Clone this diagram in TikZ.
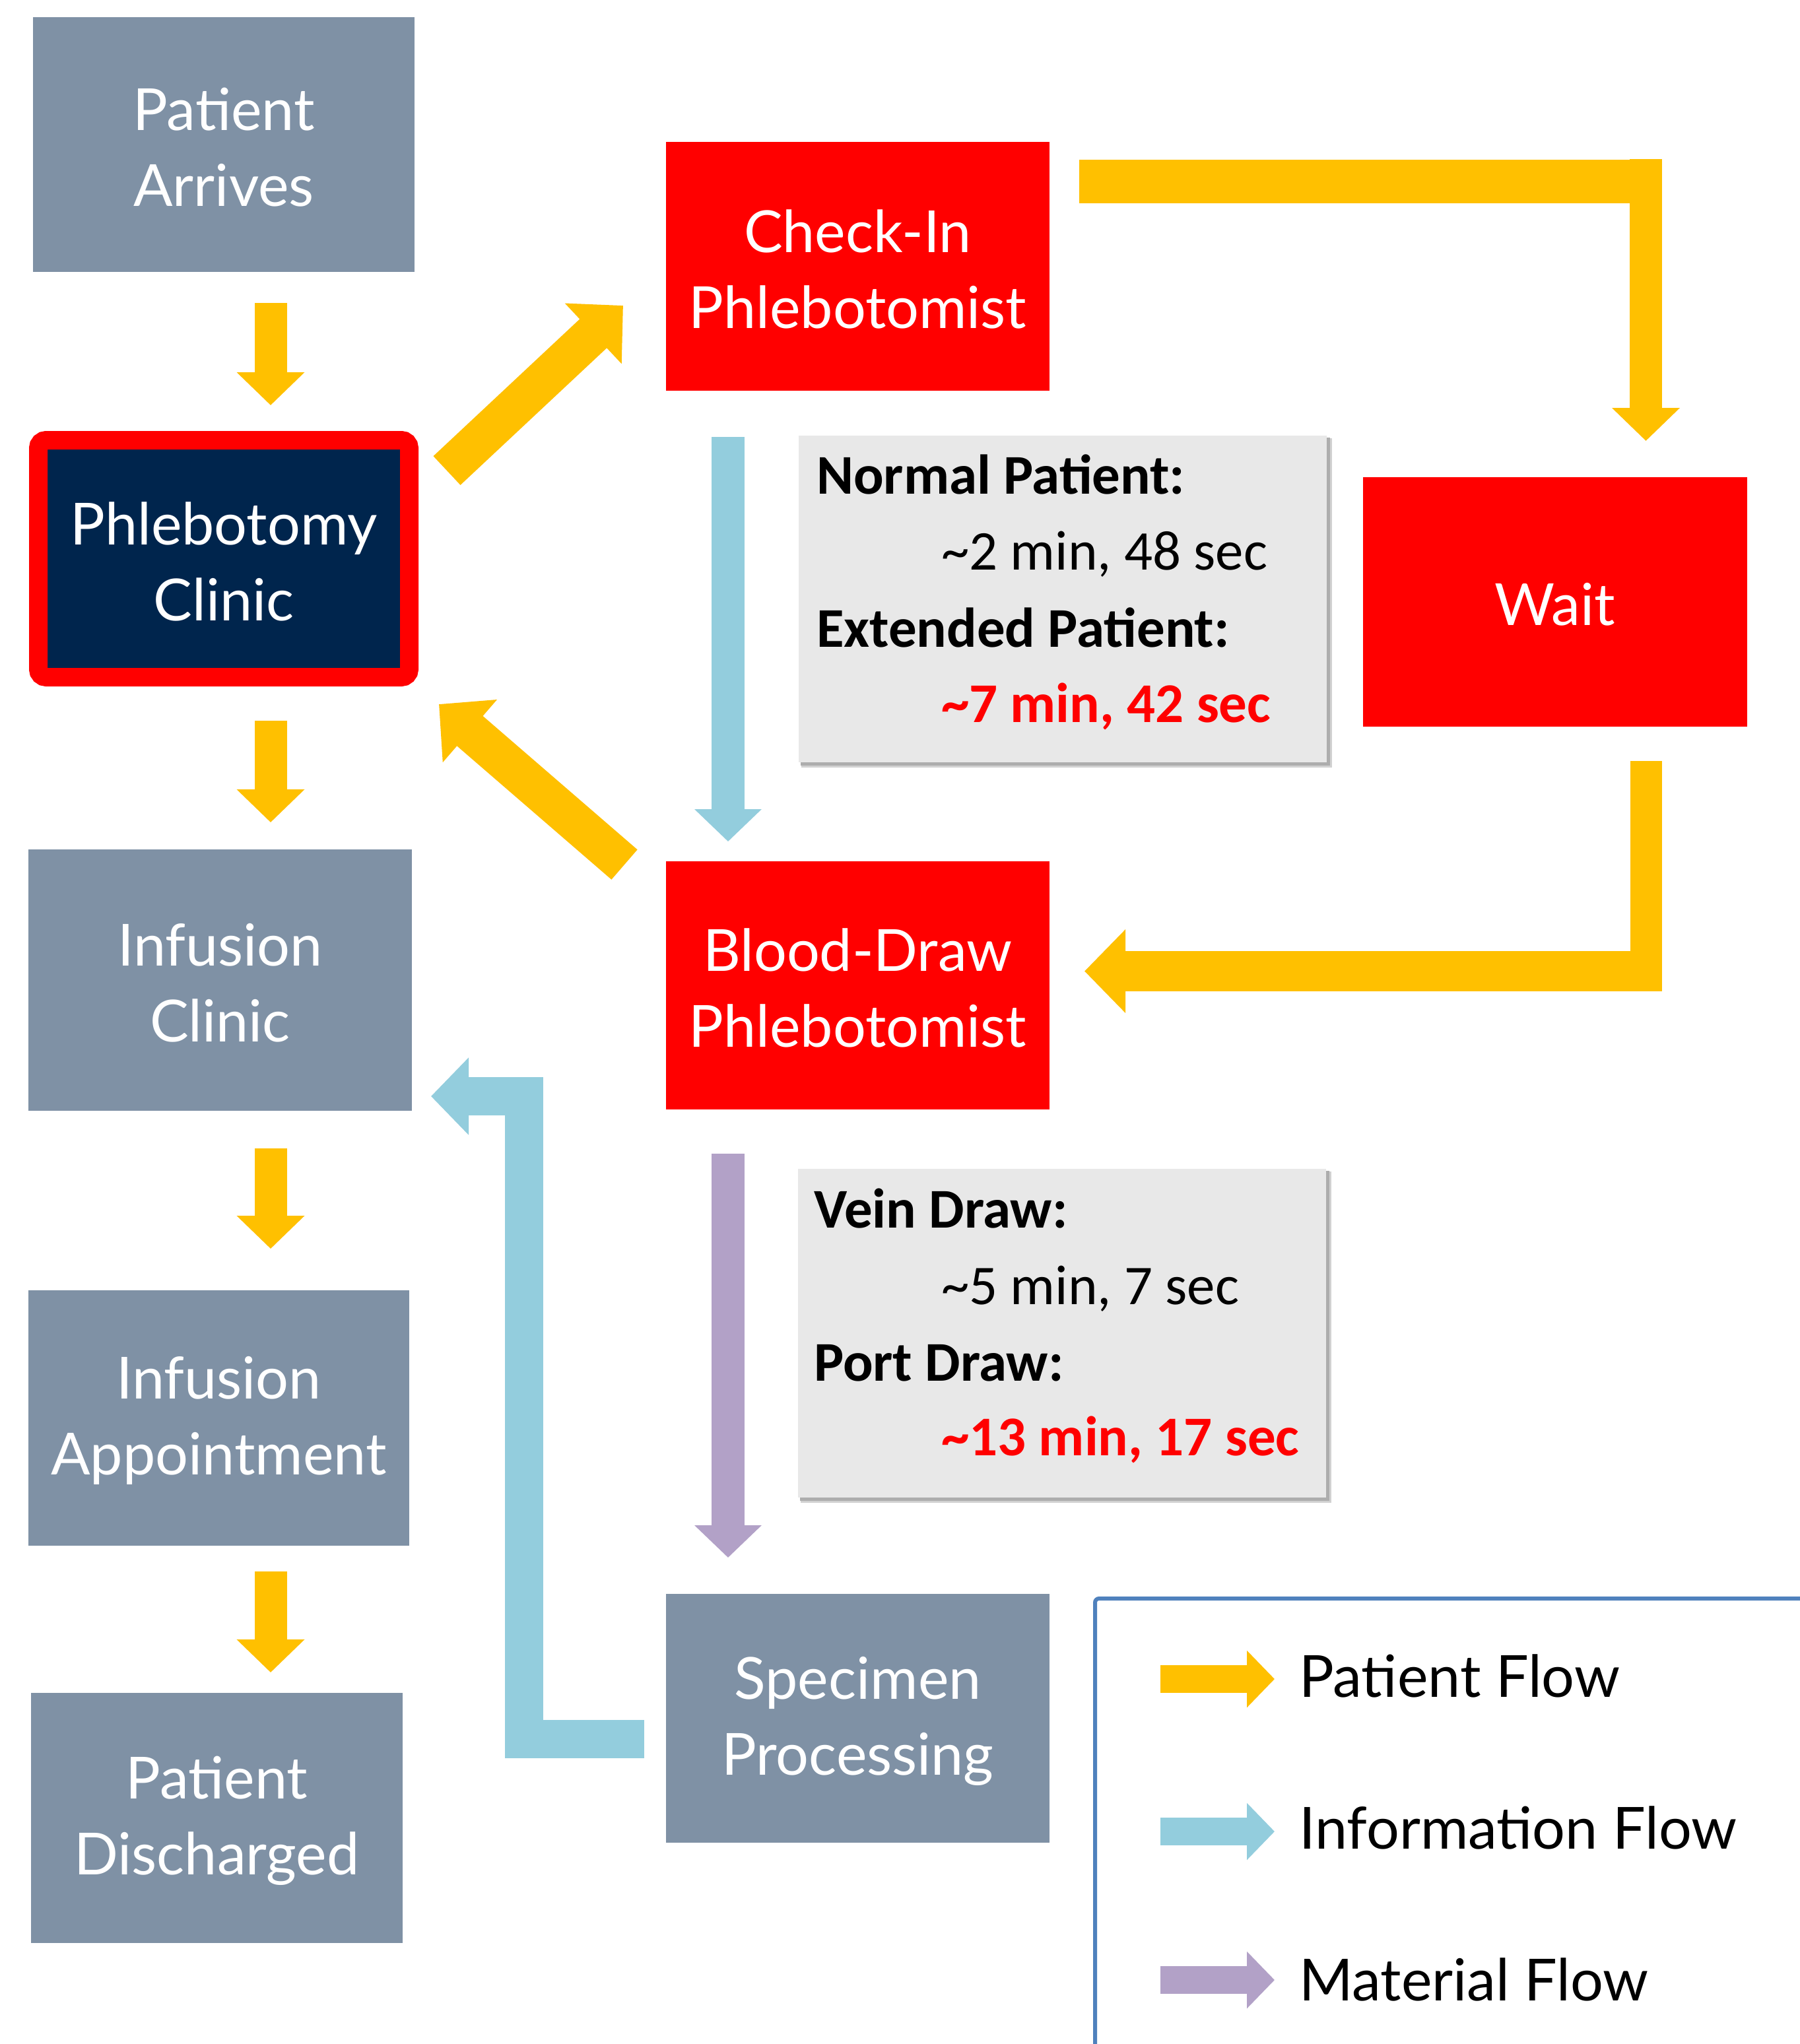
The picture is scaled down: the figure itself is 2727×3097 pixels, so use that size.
\documentclass[tikz,border=0pt]{standalone}
\usepackage{fontspec}
\setmainfont{Lato}
\newfontfamily\calib{Carlito}
\usetikzlibrary{arrows.meta}
\definecolor{slate}{HTML}{7F91A5}
\definecolor{navy}{HTML}{00254D}
\definecolor{pyellow}{HTML}{FFC000}
\definecolor{iblue}{HTML}{93CDDD}
\definecolor{mpurple}{HTML}{B2A1C7}
\definecolor{tboxc}{HTML}{E8E8E8}
\definecolor{legblue}{HTML}{4F81BD}
\definecolor{pred}{HTML}{FF0000}
\tikzset{
  lbl/.style={text=white, inner sep=0pt, align=center, font=\fontsize{88}{115}\selectfont},
  gbox/.style={fill=slate, inner sep=0pt},
  rbox/.style={fill=pred, inner sep=0pt},
  tbx/.style={fill=tboxc, inner sep=0pt},
  tline/.style={anchor=base west, inner sep=0pt, font=\calib\fontsize{85}{100}\selectfont},
  legtxt/.style={anchor=base west, inner sep=0pt, font=\fontsize{88}{100}\selectfont},
  blk/.style n args={3}{line width=#1pt, line cap=butt, line join=miter, -{Triangle[width=#2pt,length=#3pt]}},
  bar/.style={line width=#1pt, line cap=butt}
}
\begin{document}
\begin{tikzpicture}[x=1pt,y=-1pt]
\useasboundingbox (0,0) rectangle (2727,3097);
\fill[white] (0,0) rectangle (2727,3097);
\begin{scope}
\clip (0,0) rectangle (2727,3097);

% boxes
\node[gbox, minimum width=578pt, minimum height=386pt] (arr) at (339,219) {};
\node[fill=navy, draw=pred, line width=28pt, rounded corners=12pt, minimum width=562pt, minimum height=359pt, inner sep=0pt] (pc) at (339,846.5) {};
\node[rbox, minimum width=581pt, minimum height=377pt] (ci) at (1299.5,403.5) {};
\node[rbox, minimum width=582pt, minimum height=378pt] (wt) at (2356,912) {};
\node[rbox, minimum width=581pt, minimum height=376pt] (bd) at (1299.5,1493) {};
\node[gbox, minimum width=581pt, minimum height=396pt] (ic) at (333.5,1485) {};
\node[gbox, minimum width=577pt, minimum height=387pt] (ia) at (331.5,2148.5) {};
\node[gbox, minimum width=563pt, minimum height=379pt] (pd) at (328.5,2754.5) {};
\node[gbox, minimum width=581pt, minimum height=377pt] (sp) at (1299.5,2603.5) {};

% box labels
\node[lbl] (arrt) at ([yshift=-4pt]arr.center) {Patient\\Arrives};
\node[lbl] (pct) at ([yshift=-4pt]pc.center) {Phlebotomy\\Clinic};
\node[lbl] (cit) at ([yshift=-4pt]ci.center) {Check-In\\Phlebotomist};
\node[lbl] (wtt) at ([yshift=-4pt]wt.center) {Wait};
\node[lbl] (bdt) at ([yshift=-4pt]bd.center) {Blood-Draw\\Phlebotomist};
\node[lbl] (ict) at ([yshift=-4pt]ic.center) {Infusion\\Clinic};
\node[lbl] (iat) at ([yshift=-4pt]ia.center) {Infusion\\Appointment};
\node[lbl] (pdt) at ([yshift=-4pt]pd.center) {Patient\\Discharged};
\node[lbl] (spt) at ([yshift=-4pt]sp.center) {Specimen\\Processing};

% text boxes with shadow
\fill[black!18] (1214,664) rectangle (2018,1163);
\fill[black!32] (1213,663) rectangle (2015,1160);
\node[tbx, minimum width=800pt, minimum height=495pt] (tb1) at (1610,907.5) {};
\node[tline] (tb1a) at (1237,748) {\bfseries Normal Patient:};
\node[tline] (tb1b) at (1426,863) {\textasciitilde 2 min, 48 sec};
\node[tline] (tb1c) at (1237,980) {\bfseries Extended Patient:};
\node[tline, text=pred] (tb1d) at (1426,1094) {\bfseries \textasciitilde 7 min, 42 sec};

\fill[black!18] (1213,1775) rectangle (2017,2277);
\fill[black!32] (1212,1774) rectangle (2014,2274);
\node[tbx, minimum width=800pt, minimum height=498pt] (tb2) at (1609,2020) {};
\node[tline] (tb2a) at (1233,1860) {\bfseries Vein Draw:};
\node[tline] (tb2b) at (1426,1976) {\textasciitilde 5 min, 7 sec};
\node[tline] (tb2c) at (1233,2092) {\bfseries Port Draw:};
\node[tline, text=pred] (tb2d) at (1426,2205) {\bfseries \textasciitilde 13 min, 17 sec};

% connector end points
\coordinate (a1s) at (410,459);  \coordinate (a1e) at (410,614);
\coordinate (a4s) at (410,1092); \coordinate (a4e) at (410,1246);
\coordinate (a5s) at (410,1740); \coordinate (a5e) at (410,1892);
\coordinate (a6s) at (410,2381); \coordinate (a6e) at (410,2534);
\coordinate (a2s) at (677,713);  \coordinate (a2e) at (944,463);
\coordinate (a3s) at (946,1310); \coordinate (a3e) at (665,1067);
\coordinate (a7s) at (1635,274.5); \coordinate (a7c) at (2518,274.5);
\coordinate (a7v) at (2493.5,241); \coordinate (a7e) at (2493.5,668);
\coordinate (a8s) at (2494,1153); \coordinate (a8c) at (2494,1502);
\coordinate (a8h) at (2518,1471.5); \coordinate (a8e) at (1643,1471.5);
\coordinate (a9s) at (1103,662); \coordinate (a9e) at (1103,1275);
\coordinate (a10s) at (1103,1748); \coordinate (a10e) at (1103,2360);
\coordinate (a11s) at (976,2635); \coordinate (a11e) at (653,1661);

% patient flow
\draw[pyellow, blk={49}{100}{50}] (a1s) -- (a1e);
\draw[pyellow, blk={49}{100}{50}] (a4s) -- (a4e);
\draw[pyellow, blk={49}{100}{50}] (a5s) -- (a5e);
\draw[pyellow, blk={49}{100}{50}] (a6s) -- (a6e);
\draw[pyellow, blk={60}{122}{62}] (a2s) -- (a2e);
\draw[pyellow, blk={60}{122}{62}] (a3s) -- (a3e);
\draw[pyellow, bar=66] (a7s) -- (a7c);
\draw[pyellow, blk={49}{100}{50}] (a7v) -- (a7e);
\draw[pyellow, bar=48] (a8s) -- (a8c);
\draw[pyellow, blk={61}{123}{62}] (a8h) -- (a8e);
% information / material flow
\draw[iblue, blk={50}{99}{49}] (a9s) -- (a9e);
\draw[mpurple, blk={50}{99}{49}] (a10s) -- (a10e);
\draw[iblue, blk={58}{114}{57}] (a11s) -- (794,2635) -- (794,1661) -- (a11e);

% legend
\draw[legblue, line width=6pt, rounded corners=6pt] (1659,3200) |- (2800,2422);
\coordinate (l1s) at (1758,2544); \coordinate (l1e) at (1931,2544);
\coordinate (l2s) at (1758,2775); \coordinate (l2e) at (1931,2775);
\coordinate (l3s) at (1758,3000); \coordinate (l3e) at (1931,3000);
\draw[pyellow, blk={42}{84}{42}] (l1s) -- (l1e);
\draw[iblue, blk={42}{84}{42}] (l2s) -- (l2e);
\draw[mpurple, blk={42}{84}{42}] (l3s) -- (l3e);
\node[legtxt] (lg1) at (1968,2571) {Patient Flow};
\node[legtxt] (lg2) at (1968,2801) {Information Flow};
\node[legtxt] (lg3) at (1968,3031) {Material Flow};
\end{scope}
\end{tikzpicture}
\end{document}
